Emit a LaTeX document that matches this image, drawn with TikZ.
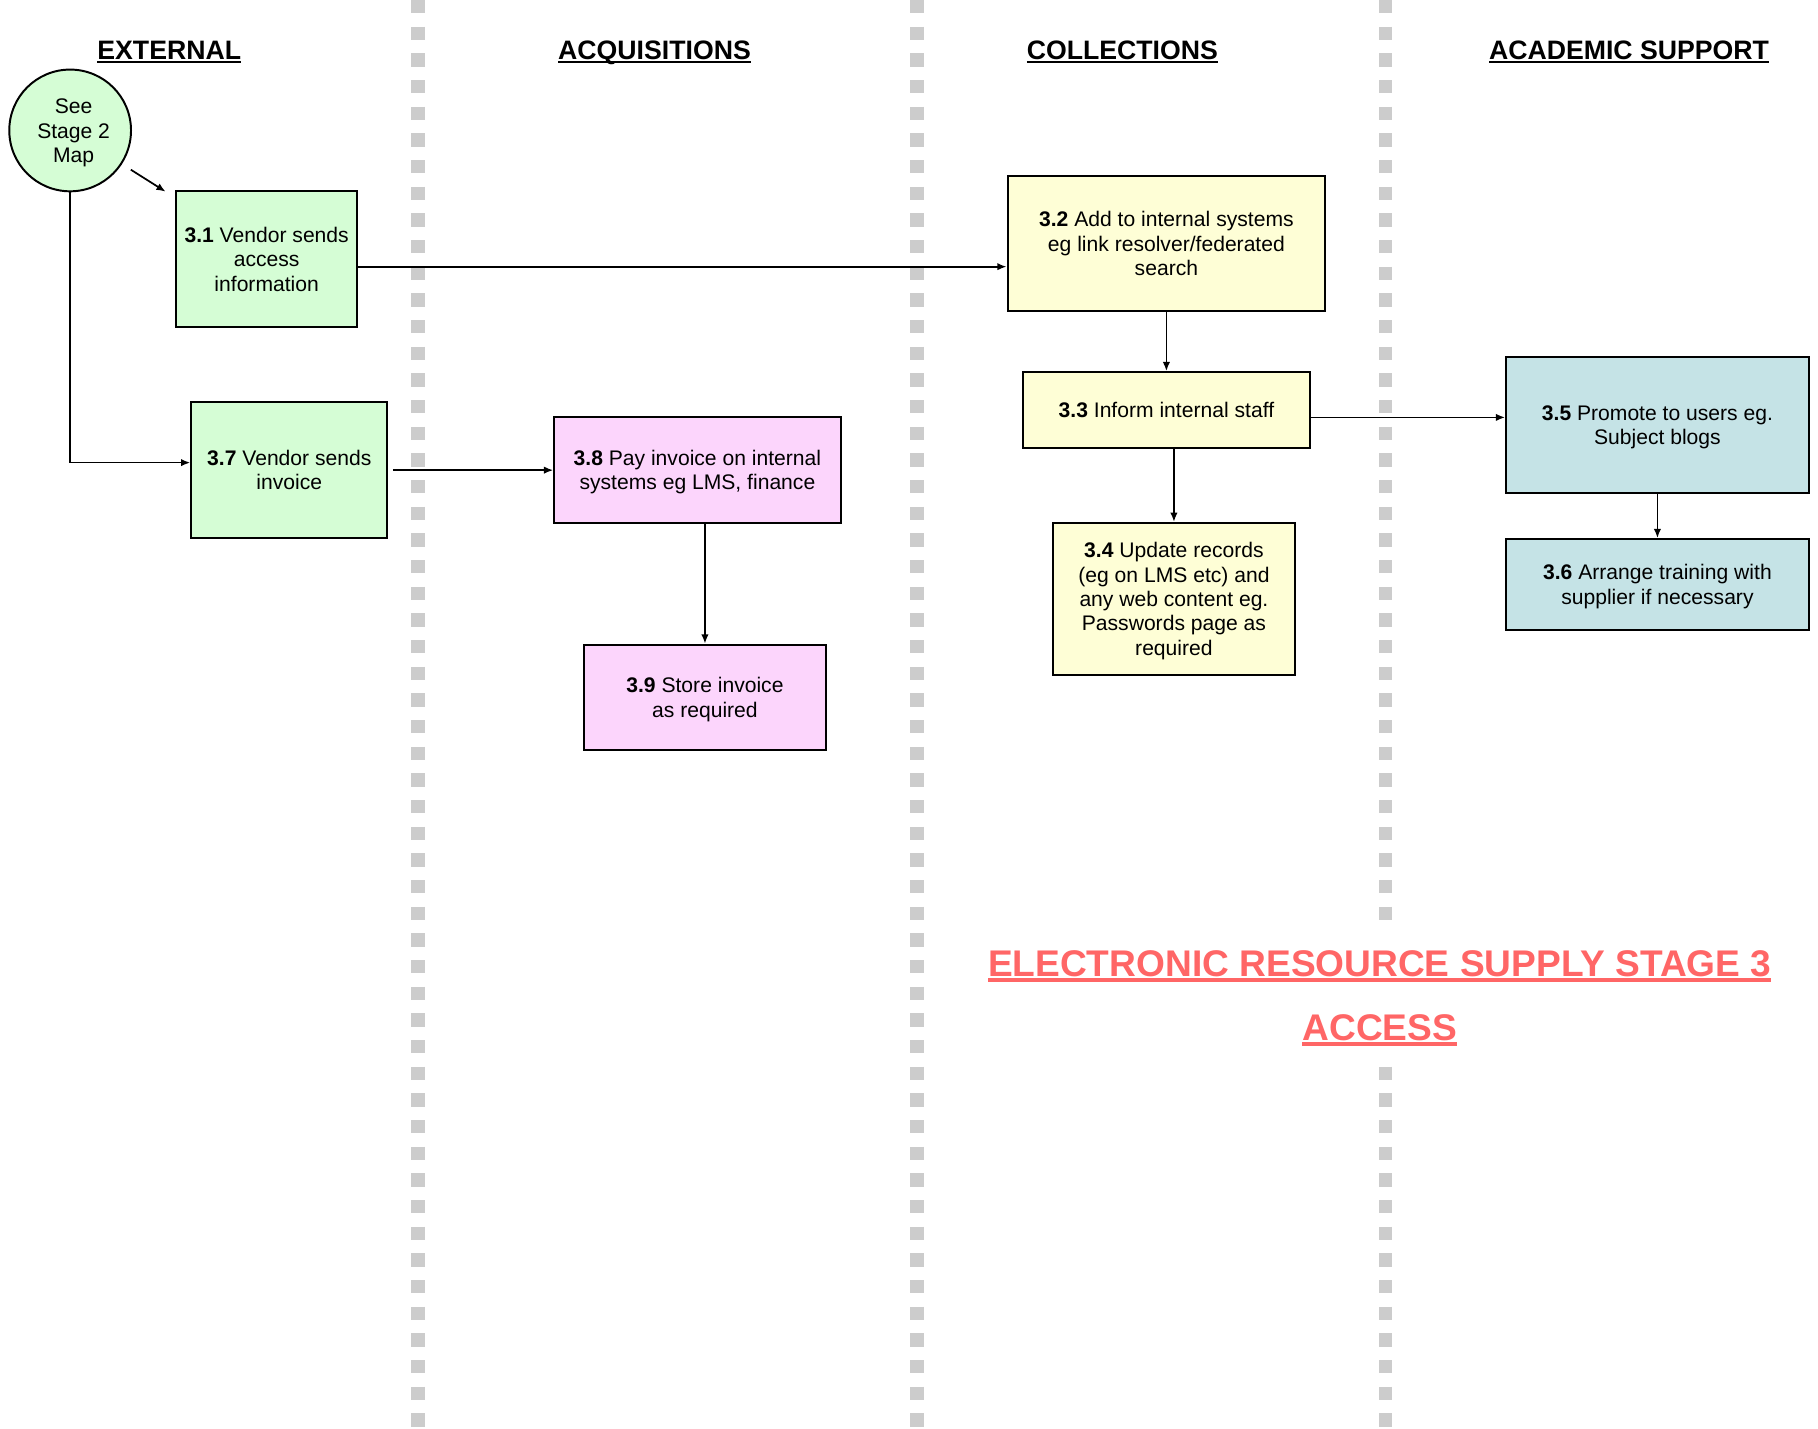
\documentclass[tikz,border=0pt]{standalone}
\usepackage{fontspec}
\setmainfont{Liberation Sans}
\usetikzlibrary{arrows.meta, calc, positioning}
\definecolor{extgreen}{HTML}{D5FDD5}
\definecolor{acqpink}{HTML}{FCD5FC}
\definecolor{colyellow}{HTML}{FEFED6}
\definecolor{acablue}{HTML}{C5E3E6}
\definecolor{titlered}{HTML}{FF6666}
\definecolor{lanegray}{HTML}{CCCCCC}
\newcommand{\ulined}[3]{\setbox0\hbox{#3}\leavevmode\rlap{\rule[-#2]{\wd0}{#1}}\box0}
\newcommand{\topstrut}{\rule{0pt}{8.5pt}}
\newcommand{\stepno}[1]{\topstrut\textbf{#1}}

\begin{document}
\begin{tikzpicture}[x=0.5pt, y=-0.5pt,
  lane/.style={line width=5.75pt, lanegray, dash pattern=on 5.75pt off 5.75pt},
  heading/.style={anchor=base, inner sep=0pt, font=\fontsize{11.5}{13}\selectfont\bfseries},
  stage/.style={draw, line width=0.85pt, inner sep=0pt, align=center, font=\fontsize{9.1}{10.5}\selectfont,
    execute at end node={\rule[-1.9pt]{0pt}{1.9pt}}},
  arrow/.style={line width=0.75pt, -{Latex[length=4pt, width=3.2pt]}}]
\useasboundingbox (0,0) rectangle (1568,1232);

% swim lanes
\foreach \x in {360.5, 791, 1195}
  \draw[lane] (\x,0) -- (\x,1232);

\node[heading] (hext) at (146,51.5) {\ulined{1.1pt}{1.5pt}{EXTERNAL}};
\node[heading] (hacq) at (564.5,51.5) {\ulined{1.1pt}{1.5pt}{ACQUISITIONS}};
\node[heading] (hcol) at (968,51.5) {\ulined{1.1pt}{1.5pt}{COLLECTIONS}};
\node[heading] (haca) at (1405,51.5) {\ulined{1.1pt}{1.5pt}{ACADEMIC SUPPORT}};

\node[fill=white, align=center, minimum height=57pt, inner xsep=2pt, text=titlered,
  font=\fontsize{16}{27.5}\selectfont\bfseries] (title) at (1190,861)
  {\ulined{1.5pt}{2.2pt}{ELECTRONIC RESOURCE SUPPLY STAGE 3}\\\ulined{1.5pt}{2.2pt}{ACCESS}};

% external
\node[stage, circle, fill=extgreen, minimum size=52.5pt] (see) at (60.5,112.5)
  {\topstrut\hspace*{3pt}See\\\hspace*{3pt}Stage 2\\\hspace*{3pt}Map};
\node[stage, fill=extgreen, minimum width=78pt, minimum height=58.5pt] (v31) at (230,223.5)
  {\stepno{3.1} Vendor sends\\access\\information};
\node[stage, fill=extgreen, minimum width=84.5pt, minimum height=58.5pt] (v37) at (249.5,405.5)
  {\stepno{3.7} Vendor sends\\invoice};

% acquisitions
\node[stage, fill=acqpink, minimum width=123.5pt, minimum height=45.5pt] (v38) at (601.5,405.5)
  {\stepno{3.8} Pay invoice on internal\\systems eg LMS, finance};
\node[stage, fill=acqpink, minimum width=104pt, minimum height=45.5pt] (v39) at (608,601.5)
  {\stepno{3.9} Store invoice\\as required};

% collections
\node[stage, fill=colyellow, minimum width=137pt, minimum height=58pt] (v32) at (1006,210)
  {\stepno{3.2} Add to internal systems\\eg link resolver/federated\\search};
\node[stage, fill=colyellow, minimum width=124pt, minimum height=32.5pt] (v33) at (1006,353.5)
  {\stepno{3.3} Inform internal staff};
\node[stage, fill=colyellow, minimum width=104.5pt, minimum height=65.5pt] (v34) at (1012.5,516.5)
  {\stepno{3.4} Update records\\(eg on LMS etc) and\\any web content eg.\\Passwords page as\\required};

% academic support
\node[stage, fill=acablue, minimum width=130.5pt, minimum height=58.5pt] (v35) at (1429.5,366.5)
  {\stepno{3.5} Promote to users eg.\\Subject blogs};
\node[stage, fill=acablue, minimum width=130.5pt, minimum height=39pt] (v36) at (1429.5,504)
  {\stepno{3.6} Arrange training with\\supplier if necessary};

\draw[arrow, shorten <=4.5pt, shorten >=4.9pt] (see.-33) -- ($(v31.north west)+(0,6.4)$);
\draw[arrow] (see.south) |- ($(v37.west)+(0,-6.5)$);
\draw[arrow] ($(v31.east)+(0,6.5)$) -- ($(v32.west)+(0,20)$);
\draw[arrow, shorten <=2pt] (v37) -- (v38);
\draw[arrow] (v38.south -| v39.north) -- (v39.north);
\draw[arrow] (v32) -- (v33);
\draw[arrow] (v33.south -| v34.north) -- (v34.north);
\draw[arrow] ($(v33.east)+(0,6.5)$) -- ($(v35.west)+(0,-6.5)$);
\draw[arrow] (v35) -- (v36);
\end{tikzpicture}
\end{document}
